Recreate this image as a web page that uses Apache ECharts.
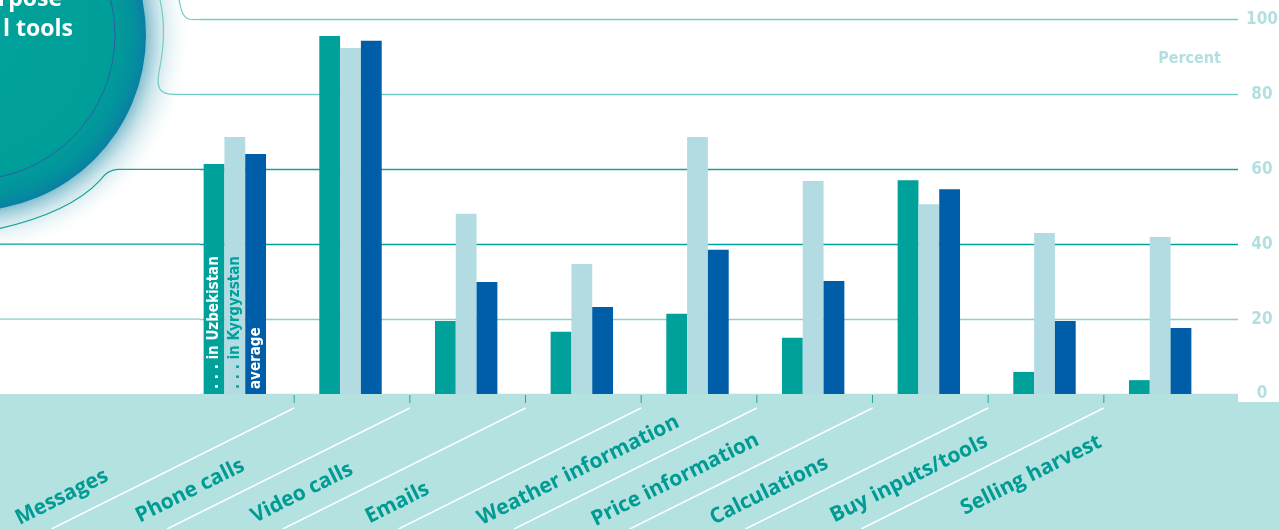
<!DOCTYPE html>
<html><head><meta charset="utf-8">
<script src="https://cdn.jsdelivr.net/npm/echarts@6/dist/echarts.min.js"></script>
<style>html,body{margin:0;padding:0;background:#fff;overflow:hidden}#c{width:1279px;height:529px}</style>
</head><body><div id="c"></div>
<script>
// ---- data ----
const categories = ['Messages', 'Phone calls', 'Video calls', 'Emails', 'Weather information', 'Price information', 'Calculations', 'Buy inputs/tools', 'Selling harvest'];
const uzbekistan = [61.4, 95.6, 19.5, 16.6, 21.4, 15.0, 57.1, 5.9, 3.7];
const kyrgyzstan = [68.6, 92.4, 48.1, 34.7, 68.6, 56.9, 50.7, 43.0, 41.9];
const average = [64.1, 94.3, 29.9, 23.2, 38.5, 30.2, 54.7, 19.5, 17.6];
const seriesNames = ['. . . in Uzbekistan', '. . . in Kyrgyzstan', 'average'];
const yTickValues = [0, 20, 40, 60, 80, 100];
const axisName = 'Percent';
const titleFragments = ['rpose', 'l tools'];

// ---- layout / style (not data) ----
const labelShift = [143, 120, 128, 172, 22, 62, 114, 65, 67];
const C_UZ = '#00a19a', C_KG = '#b3dce2', C_AVG = '#005ea8';
const C_BAND = '#b3e2e0', C_LABEL = '#009b93', C_AX = '#b3dfe0';
const condensed = "'Liberation Sans Narrow', 'DejaVu Sans Condensed', sans-serif";
const gridColors = ['#b3e2e0', '#86d2cd', '#00a39b', '#14a39b', '#72cdc8', '#72cdc8'];

const chart = echarts.init(document.getElementById('c'), null, {renderer: 'canvas'});

const rich = {};
categories.forEach((c, i) => {
  rich['c' + i] = {fontFamily: "'Open Sans', sans-serif", fontWeight: 'bold', fontSize: 21, color: C_LABEL, padding: [0, labelShift[i], 0, 0]};
});

function legendLabel(name, color) {
  return {show: true, position: 'insideBottom', rotate: 90, align: 'left', verticalAlign: 'middle', distance: 5,
    formatter: name, color: color, fontFamily: condensed, fontWeight: 'bold', fontSize: 15};
}
function withLegend(arr, name, color) {
  return arr.map((v, i) => i === 0 ? {value: v, label: legendLabel(name, color)} : v);
}

const G = {top: 19.5, bottom: 135};
chart.setOption({
  animation: false,
  grid: [
    {left: 177, right: 61, top: G.top, bottom: G.bottom, containLabel: false, outerBoundsMode: 'none'},
    {left: 200, right: 41, top: G.top, bottom: G.bottom, containLabel: false, outerBoundsMode: 'none'}
  ],
  xAxis: [
    {type: 'category', gridIndex: 0, data: categories, z: 3,
     axisLine: {show: false},
     axisTick: {show: false},
     axisLabel: {interval: 0, rotate: 26.5, margin: 17, formatter: (v, i) => '{c' + i + '|' + v + '}', rich: rich}},
    {type: 'category', gridIndex: 1, data: categories, show: false}
  ],
  yAxis: [
    {type: 'value', gridIndex: 0, position: 'right', min: yTickValues[0], max: yTickValues[yTickValues.length - 1], interval: 20,
     axisLine: {show: false}, axisTick: {show: false}, splitLine: {show: false},
     axisLabel: {margin: 29, align: 'left', formatter: v => '{t|' + v + '}',
       rich: {t: {width: 30, align: 'center', color: C_AX, fontFamily: condensed, fontWeight: 'bold', fontSize: 17}}},
     name: axisName, nameLocation: 'end', nameGap: -39,
     nameTextStyle: {align: 'right', verticalAlign: 'middle', color: C_AX, fontFamily: condensed, fontWeight: 'bold', fontSize: 16, padding: [0, -3, 0, 0]}},
    {type: 'value', gridIndex: 1, position: 'right', min: 0, max: 100, interval: 20,
     axisLine: {show: false}, axisTick: {show: false}, axisLabel: {show: false},
     splitLine: {show: true, lineStyle: {color: gridColors, width: 1.3}}}
  ],
  series: [
    {name: seriesNames[0], type: 'bar', xAxisIndex: 0, yAxisIndex: 0, barWidth: 20.8, barGap: '0%', itemStyle: {color: C_UZ}, data: withLegend(uzbekistan, seriesNames[0], '#ffffff')},
    {name: seriesNames[1], type: 'bar', xAxisIndex: 0, yAxisIndex: 0, barWidth: 20.8, barGap: '0%', itemStyle: {color: C_KG}, data: withLegend(kyrgyzstan, seriesNames[1], C_UZ)},
    {name: seriesNames[2], type: 'bar', xAxisIndex: 0, yAxisIndex: 0, barWidth: 20.8, barGap: '0%', itemStyle: {color: C_AVG}, data: withLegend(average, seriesNames[2], '#ffffff')}
  ]
});

// ---- decorations computed from the axes ----
const yPx = v => chart.convertToPixel({yAxisIndex: 0}, v);
const xPx = i => chart.convertToPixel({xAxisIndex: 0}, categories[i]);
const y0 = yPx(0), y20 = yPx(20), y40 = yPx(40), y60 = yPx(60), y80 = yPx(80), y100 = yPx(100);
const W = 1279, H = 529, gx1 = 200, gRight = W - 41;
const g = [];
// glow + circle
g.push({type: 'circle', z: -1, shape: {cx: -30, cy: 35, r: 222}, style: {fill: {type: 'radial', x: 0.5, y: 0.5, r: 0.5,
  colorStops: [{offset: 0, color: 'rgba(110,180,198,0.85)'}, {offset: 0.79, color: 'rgba(110,180,198,0.85)'}, {offset: 0.86, color: 'rgba(170,212,222,0.55)'}, {offset: 1, color: 'rgba(255,255,255,0)'}]}}});
g.push({type: 'circle', z: -1, shape: {cx: -30, cy: 35, r: 176}, style: {fill: {type: 'radial', x: 0.5, y: 0.5, r: 0.5,
  colorStops: [{offset: 0, color: '#00a39b'}, {offset: 0.8, color: '#009e98'}, {offset: 0.93, color: '#03919d'}, {offset: 1, color: '#0a7fa4'}]}}});
g.push({type: 'circle', z: -1, shape: {cx: -30, cy: 35, r: 145}, style: {fill: 'none', stroke: '#2a5fa8', lineWidth: 1}});
g.push({type: 'text', z: 5, style: {text: titleFragments[0], x: 62, y: -1, align: 'right', verticalAlign: 'middle', fill: '#ffffff', font: "bold 23px 'Open Sans', sans-serif"}});
g.push({type: 'text', z: 5, style: {text: titleFragments[1], x: 73, y: 29, align: 'right', verticalAlign: 'middle', fill: '#ffffff', font: "bold 23px 'Open Sans', sans-serif"}});
// gridline extensions / connectors
const sty = (c, w) => ({fill: 'none', stroke: c, lineWidth: w || 1.3});
const seg = (x1, y1, x2, y2, c, w) => ({type: 'line', z: -1, shape: {x1, y1, x2, y2}, style: sty(c, w)});
const bez = (s, c, w) => ({type: 'bezierCurve', z: -1, shape: s, style: sty(c, w)});
g.push(seg(0, y20, gx1, y20, gridColors[1]));
g.push(seg(0, y40, gx1, y40, gridColors[2]));
g.push(bez({x1: 0, y1: y60 + 59, cpx1: 70, cpy1: y60 + 43, x2: 100, y2: y60 + 11}, gridColors[3], 1.2));
g.push(bez({x1: 100, y1: y60 + 11, cpx1: 108, cpy1: y60, x2: 118, y2: y60}, gridColors[3], 1.2));
g.push(seg(118, y60, gx1, y60, gridColors[3], 1.2));
g.push(bez({x1: 160, y1: 0, cpx1: 166, cpy1: 25, cpx2: 164, cpy2: 48, x2: 159, y2: 72}, gridColors[4], 1.2));
g.push(bez({x1: 159, y1: 72, cpx1: 156, cpy1: y80 - 6, cpx2: 160, cpy2: y80, x2: 174, y2: y80}, gridColors[4], 1.2));
g.push(seg(174, y80, gx1, y80, gridColors[4], 1.2));
g.push(bez({x1: 179, y1: 0, cpx1: 181, cpy1: 8, cpx2: 182, cpy2: y100, x2: 192, y2: y100}, gridColors[5], 1.2));
g.push(seg(192, y100, gx1, y100, gridColors[5], 1.2));
// bottom band
g.push({type: 'polygon', z: -1, shape: {points: [[0, y0], [gRight, y0], [gRight, y0 + 8], [W, y0 + 8], [W, H], [0, H]]}, style: {fill: C_BAND}});
// category boundary ticks and diagonal separators
const slope = Math.tan(26.5 * Math.PI / 180);
for (let i = 1; i < categories.length; i++) {
  const bx = (xPx(i - 1) + xPx(i)) / 2 + 1.5;
  g.push({type: 'line', z: 4, shape: {x1: bx, y1: y0 + 1, x2: bx, y2: y0 + 9}, style: {stroke: '#2aa39c', lineWidth: 1}});
  const ys = y0 + 14;
  g.push({type: 'line', z: -1, shape: {x1: bx, y1: ys, x2: bx - (H - ys) / slope, y2: H}, style: {stroke: '#ffffff', lineWidth: 1.5}});
}
chart.setOption({graphic: g});
</script>
</body></html>
